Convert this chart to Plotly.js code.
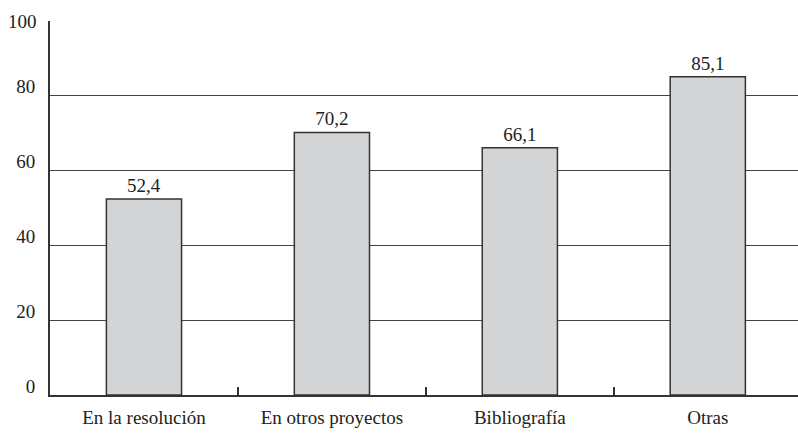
<!DOCTYPE html>
<html>
<head>
<meta charset="utf-8">
<script src="https://cdn.plot.ly/plotly-3.0.1.min.js"></script>
<style>html,body{margin:0;padding:0;background:#fff;}</style>
</head>
<body>
<div id="chart" style="width:798px;height:433px;"></div>
<script>
const categories = ["En la resolución", "En otros proyectos", "Bibliografía", "Otras"];
const values = [52.4, 70.2, 66.1, 85.1];
const valueLabels = ["52,4", "70,2", "66,1", "85,1"];
const yTicks = [0, 20, 40, 60, 80, 100];
const yTickText = ["0", "20", "40", "60", "80", ""];
const topTickText = "100";

const font = {family: "'Liberation Serif'", size: 19, color: "#222"};

Plotly.newPlot("chart", [{
  type: "bar",
  x: categories,
  y: values,
  text: valueLabels,
  textposition: "outside",
  cliponaxis: false,
  textfont: font,
  width: 0.4,
  marker: {color: "#d3d4d6", line: {color: "#333", width: 1.5}},
  hoverinfo: "none"
}], {
  width: 798, height: 433,
  margin: {l: 50, r: 0, t: 20.5, b: 37.5},
  paper_bgcolor: "#fff", plot_bgcolor: "#fff",
  showlegend: false,
  font: font,
  xaxis: {
    range: [-0.5, 3.48],
    showline: true, linecolor: "#333", linewidth: 2,
    ticks: "inside", tickson: "boundaries", ticklen: 8, tickcolor: "#333", tickwidth: 1.5,
    ticklabelstandoff: 4,
    showgrid: false, tickfont: font
  },
  yaxis: {
    range: [0, 100],
    tickvals: yTicks,
    ticktext: yTickText,
    showline: true, linecolor: "#333", linewidth: 2,
    showgrid: true, gridcolor: "#444", gridwidth: 1.3,
    zeroline: false,
    ticks: "outside", ticklen: 9, tickcolor: "rgba(0,0,0,0)",
    ticklabelshift: -9,
    tickfont: font
  },
  annotations: [{
    xref: "paper", yref: "y", x: 0, y: yTicks[yTicks.length - 1],
    text: topTickText, showarrow: false, xanchor: "right", yanchor: "middle",
    xshift: -11, font: font
  }]
}, {staticPlot: true});
</script>
</body>
</html>
